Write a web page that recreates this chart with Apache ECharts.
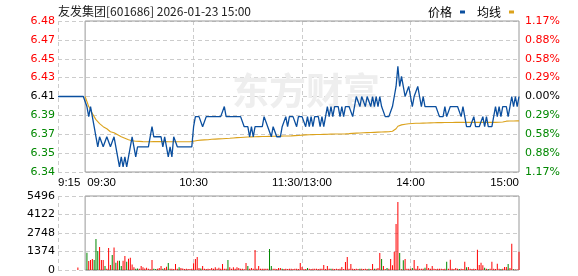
<!DOCTYPE html>
<html><head><meta charset="utf-8">
<script src="https://cdn.jsdelivr.net/npm/echarts@6/dist/echarts.min.js"></script>
<style>html,body{margin:0;padding:0;background:#fff}#c{width:578px;height:276px}</style>
</head><body><div id="c"></div>
<script>
// ---- axis / tick data ----
const titleText = '友发集团[601686] 2026-01-23 15:00';
const tickIdx = [0, 15, 75, 135, 195, 255];
const tickText = ['9:15', '09:30', '10:30', '11:30/13:00', '14:00', '15:00'];
const gridIdx = [0, 75, 135, 195];
const priceTickLabels = ['6.34','6.35','6.37','6.39','6.41','6.43','6.45','6.47','6.48'];
const pctTickLabels = ['1.17%','0.88%','0.58%','0.29%','0.00%','0.29%','0.58%','0.88%','1.17%'];
const labelTone = ['g','g','g','g','n','r','r','r','r'];
const priceMin = 6.335, priceMax = 6.485;
const volTicks = [0, 1374, 2748, 4122, 5496];

// ---- pre-market (9:15-9:29) ----
const preMarketPrice = [6.41,6.41,6.41,6.41,6.41,6.41,6.41,6.41,6.41,6.41,6.41,6.41,6.41,6.41,6.41];
const preMarketVol   = [0,0,0,0,0,0,0,0,0,0,0,180,0,0,0];

// ---- minute prices 9:30 .. 15:00 (241) ----
const price = [
6.41,6.40,6.39,6.40,6.39,6.38,6.37,6.36,6.37,6.37,
6.36,6.36,6.37,6.37,6.36,6.36,6.37,6.36,6.35,6.34,
6.35,6.34,6.35,6.34,6.35,6.36,6.37,6.36,6.35,6.36,
6.36,6.36,6.36,6.36,6.36,6.36,6.36,6.38,6.37,6.37,
6.37,6.37,6.37,6.36,6.37,6.36,6.35,6.36,6.35,6.37,
6.37,6.36,6.36,6.36,6.36,6.36,6.36,6.36,6.36,6.36,
6.38,6.39,6.39,6.39,6.39,6.38,6.38,6.39,6.39,6.39,
6.39,6.39,6.39,6.39,6.39,6.39,6.39,6.40,6.39,6.39,
6.39,6.39,6.39,6.39,6.39,6.39,6.39,6.39,6.38,6.38,
6.38,6.37,6.38,6.37,6.38,6.38,6.38,6.38,6.38,6.39,
6.39,6.38,6.38,6.37,6.38,6.38,6.37,6.37,6.37,6.38,
6.38,6.39,6.38,6.39,6.39,6.39,6.39,6.38,6.39,6.39,
6.39,6.39,6.38,6.39,6.38,6.39,6.38,6.39,6.39,6.39,
6.38,6.39,6.38,6.39,6.40,6.39,6.40,6.39,6.40,6.40,
6.40,6.39,6.40,6.39,6.40,6.40,6.40,6.40,6.39,6.40,
6.41,6.41,6.40,6.41,6.41,6.40,6.41,6.41,6.40,6.41,
6.40,6.41,6.40,6.41,6.40,6.40,6.39,6.39,6.39,6.39,
6.40,6.41,6.42,6.44,6.42,6.43,6.42,6.41,6.41,6.42,
6.41,6.40,6.41,6.41,6.42,6.41,6.40,6.41,6.40,6.40,
6.40,6.40,6.40,6.40,6.40,6.40,6.39,6.39,6.39,6.40,
6.39,6.39,6.40,6.40,6.40,6.40,6.40,6.40,6.39,6.40,
6.39,6.38,6.38,6.38,6.38,6.39,6.38,6.38,6.38,6.38,
6.39,6.38,6.39,6.38,6.38,6.38,6.39,6.40,6.39,6.40,
6.39,6.40,6.40,6.40,6.39,6.40,6.41,6.40,6.41,6.40,
6.41];

// ---- average price line (241) ----
const avgPrice = [
6.4100,6.4050,6.4000,6.3970,6.3930,6.3900,6.3870,6.3850,6.3830,6.3820,
6.3800,6.3790,6.3780,6.3770,6.3750,6.3745,6.3740,6.3730,6.3720,6.3710,
6.3700,6.3690,6.3685,6.3680,6.3670,6.3665,6.3660,6.3658,6.3656,6.3655,
6.3654,6.3653,6.3652,6.3652,6.3651,6.3651,6.3651,6.3652,6.3652,6.3652,
6.3652,6.3652,6.3652,6.3652,6.3652,6.3652,6.3651,6.3651,6.3651,6.3651,
6.3651,6.3651,6.3651,6.3651,6.3651,6.3651,6.3651,6.3651,6.3651,6.3651,
6.3655,6.3660,6.3663,6.3665,6.3667,6.3668,6.3669,6.3670,6.3671,6.3672,
6.3675,6.3676,6.3677,6.3678,6.3679,6.3680,6.3681,6.3682,6.3683,6.3684,
6.3685,6.3687,6.3688,6.3690,6.3691,6.3692,6.3693,6.3694,6.3695,6.3696,
6.3697,6.3698,6.3699,6.3700,6.3700,6.3701,6.3701,6.3702,6.3702,6.3703,
6.3703,6.3704,6.3704,6.3704,6.3705,6.3705,6.3705,6.3706,6.3706,6.3706,
6.3707,6.3707,6.3708,6.3708,6.3709,6.3710,6.3711,6.3712,6.3713,6.3715,
6.3716,6.3718,6.3719,6.3720,6.3720,6.3721,6.3721,6.3722,6.3722,6.3723,
6.3723,6.3724,6.3724,6.3725,6.3725,6.3726,6.3726,6.3727,6.3727,6.3727,
6.3728,6.3728,6.3728,6.3728,6.3729,6.3730,6.3731,6.3733,6.3734,6.3735,
6.3736,6.3737,6.3738,6.3739,6.3740,6.3740,6.3741,6.3742,6.3742,6.3743,
6.3744,6.3745,6.3746,6.3747,6.3748,6.3748,6.3749,6.3749,6.3750,6.3752,
6.3755,6.3762,6.3780,6.3805,6.3815,6.3818,6.3820,6.3825,6.3828,6.3830,
6.3831,6.3832,6.3833,6.3834,6.3835,6.3835,6.3836,6.3836,6.3837,6.3837,
6.3838,6.3838,6.3839,6.3839,6.3839,6.3840,6.3840,6.3840,6.3840,6.3841,
6.3841,6.3841,6.3842,6.3842,6.3843,6.3843,6.3843,6.3843,6.3843,6.3843,
6.3843,6.3843,6.3843,6.3843,6.3843,6.3843,6.3843,6.3843,6.3843,6.3843,
6.3843,6.3843,6.3843,6.3843,6.3843,6.3843,6.3843,6.3843,6.3843,6.3844,
6.3845,6.3847,6.3850,6.3855,6.3856,6.3856,6.3857,6.3857,6.3857,6.3858,
6.3858];

// ---- minute volume (241) and bar colour r/g ----
const volume = [
0,
1290,670,740,820,740,2300,1410,1710,740,740,
300,100,1630,370,1110,1680,545,690,690,300,
690,1040,620,840,915,400,200,100,120,100,
300,200,120,170,100,50,740,100,75,100,
150,300,100,150,250,520,100,100,75,445,
100,200,150,120,75,100,75,75,100,500,
820,965,150,120,300,100,75,100,75,150,
100,200,100,170,100,445,100,100,740,200,
100,200,100,200,150,100,100,50,520,300,
100,150,100,1485,100,300,100,100,100,100,
100,1560,300,100,100,75,150,150,100,75,
100,75,100,100,75,100,100,75,520,220,
50,75,150,100,75,100,100,100,75,100,
100,370,75,300,100,100,100,75,100,75,
100,220,75,595,965,100,445,100,75,100,
75,100,100,75,100,75,100,75,445,100,
100,150,1260,820,300,75,150,100,820,350,
1360,3420,5050,1260,50,720,820,100,100,100,
150,740,100,300,100,100,100,170,445,150,
100,300,100,75,100,100,100,75,100,620,
100,770,100,75,150,100,75,100,75,620,
200,220,100,75,100,75,1510,370,545,350,
170,100,75,100,620,100,75,470,100,75,
100,220,220,445,150,1955,50,30,30,1360];
const volumeDir = ('r' +
'grrrgggrrr' + 'grrrgrgrgg' + 'rrgrrrrggr' + 'rrrrrrrggr' + 'rrgrrgrrrr' +
'rgrrrrrrrr' + 'rrrgrrrrrr' + 'rrrrrrrrgr' + 'rrrrrrrrrg' + 'rrrrrrrrrr' +
'rggrrrrrgr' + 'rrrrrrrrrr' + 'rrgrrrrrrr' + 'rrrrrgrrrr' + 'rrrrrrrrrr' +
'rgrrrrgrrg' + 'rrrgrrgrrr' + 'rrrgrgrrrr' + 'grrrrrrgrr' + 'rrrrrrrrrg' +
'rrrrrrgrrr' + 'grrrrrrrrr' + 'grgrrrrrrg' + 'rrrgrrgrrr').split('');

// ---- build ----
const times = [];
function pad(n){return (n<10?'0':'')+n;}
for (let t = 9*60+15; t <= 11*60+30; t++) times.push(pad(Math.floor(t/60))+':'+pad(t%60));
for (let t = 13*60+1; t <= 15*60; t++) times.push(pad(Math.floor(t/60))+':'+pad(t%60));

const RED = '#ff0000', GREEN = '#008800', BLUE = '#0b4f9f', GOLD = '#dba21c';
const priceData = preMarketPrice.concat(price);
const avgData = preMarketPrice.map(() => null).concat(avgPrice);
const allVol = preMarketVol.concat(volume);
const allDir = preMarketVol.map(() => 'r').concat(volumeDir);
const volData = allVol.map((v, i) => ({value: v, itemStyle: {color: allDir[i] === 'g' ? GREEN : RED}}));
const toneColor = t => t === 'r' ? RED : (t === 'g' ? GREEN : '#000');

const numFont = 'DejaVu Sans';
const dashed = {type: [4, 3], color: '#cccccc', width: 1};
const frame = (yAxisMin, yAxisMax) => ({
  silent: true,
  itemStyle: {color: 'rgba(0,0,0,0)', borderColor: '#999999', borderWidth: 1},
  data: [[{xAxis: times[15], yAxis: yAxisMin}, {xAxis: times[255], yAxis: yAxisMax}]]
});

const chart = echarts.init(document.getElementById('c'), null, {renderer: 'canvas'});
chart.setOption({
  animation: false,
  title: {text: titleText, left: 53, top: 0,
    textStyle: {fontSize: 12, fontWeight: 'normal', color: '#222', fontFamily: 'Noto Sans CJK SC'}},
  legend: {data: ['价格', '均线'], right: 59, top: 1, align: 'right', icon: 'rect',
    itemWidth: 5, itemHeight: 3, itemGap: 12,
    textStyle: {fontSize: 12, color: '#000', fontFamily: 'Noto Sans CJK SC', padding: [0, 3, 0, 0]}},
  graphic: [{type: 'text', left: 232, top: 72, z: 1, silent: true,
    style: {text: '东方财富', font: 'bold 37px "Noto Sans CJK SC"', fill: '#eeeeee'}}],
  grid: [
    {left: 58, right: 59, top: 21, height: 151},
    {left: 58, right: 59, top: 196, height: 74}
  ],
  xAxis: [
    {type: 'category', gridIndex: 0, data: times, boundaryGap: false,
      axisLine: {show: false}, axisTick: {show: false},
      axisLabel: {
        interval: (i) => tickIdx.indexOf(i) >= 0,
        formatter: (v, i) => { const k = tickIdx.indexOf(i); if (k < 0) return ''; return i === 15 ? '{p|' + tickText[k] + '}' : tickText[k]; },
        alignMinLabel: 'left', alignMaxLabel: 'right',
        fontSize: 11.5, fontFamily: 'Liberation Sans', color: '#000', margin: 5,
        rich: {p: {fontSize: 11.5, fontFamily: 'Liberation Sans', color: '#000', padding: [0, 0, 0, 33]}}
      },
      splitLine: {show: true, interval: (i) => gridIdx.indexOf(i) >= 0, lineStyle: dashed}
    },
    {type: 'category', gridIndex: 1, data: times, boundaryGap: false,
      axisLine: {show: false}, axisTick: {show: false}, axisLabel: {show: false},
      splitLine: {show: true, interval: (i) => gridIdx.indexOf(i) >= 0, lineStyle: dashed}
    }
  ],
  yAxis: [
    {type: 'value', gridIndex: 0, min: 0, max: 8, interval: 1, position: 'left',
      axisLine: {show: false}, axisTick: {show: false},
      axisLabel: {formatter: (v) => priceTickLabels[Math.round(v)], color: (v) => toneColor(labelTone[Math.round(v)]),
        fontSize: 11, fontFamily: numFont, margin: 3},
      splitLine: {show: true, lineStyle: dashed}},
    {type: 'value', gridIndex: 0, min: 0, max: 8, interval: 1, position: 'right',
      axisLine: {show: false}, axisTick: {show: false},
      axisLabel: {formatter: (v) => pctTickLabels[Math.round(v)], color: (v) => toneColor(labelTone[Math.round(v)]),
        fontSize: 11, fontFamily: numFont, margin: 6},
      splitLine: {show: false}},
    {type: 'value', gridIndex: 0, min: priceMin, max: priceMax, show: false, splitLine: {show: false}},
    {type: 'value', gridIndex: 1, min: volTicks[0], max: volTicks[volTicks.length - 1], interval: volTicks[1] - volTicks[0],
      axisLine: {show: false}, axisTick: {show: false},
      axisLabel: {color: '#000', fontSize: 11, fontFamily: numFont, margin: 3, formatter: (v) => String(v)},
      splitLine: {show: true, lineStyle: dashed}}
  ],
  series: [
    {name: '价格', type: 'line', xAxisIndex: 0, yAxisIndex: 2, data: priceData, symbol: 'none',
      lineStyle: {color: BLUE, width: 1.3}, itemStyle: {color: BLUE}, z: 4,
      markArea: frame(priceMin, priceMax)},
    {name: '均线', type: 'line', xAxisIndex: 0, yAxisIndex: 2, data: avgData, symbol: 'none',
      lineStyle: {color: GOLD, width: 1.1}, itemStyle: {color: GOLD}, z: 3},
    {name: '成交量', type: 'bar', xAxisIndex: 1, yAxisIndex: 3, data: volData, barWidth: 1, barGap: '0%', z: 3},
    {name: '框', type: 'line', xAxisIndex: 1, yAxisIndex: 3, data: [], symbol: 'none', z: 2,
      markArea: frame(volTicks[0], volTicks[volTicks.length - 1])}
  ]
});
</script></body></html>
